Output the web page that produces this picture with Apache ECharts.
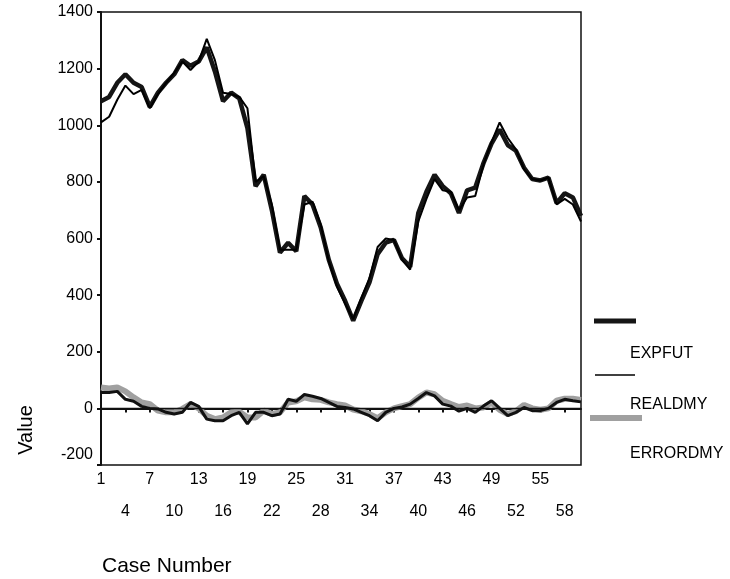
<!DOCTYPE html>
<html>
<head>
<meta charset="utf-8">
<script src="https://cdn.jsdelivr.net/npm/echarts@6/dist/echarts.min.js"></script>
<style>html,body{margin:0;padding:0;background:#fff}#c{width:730px;height:579px}</style>
</head>
<body>
<div id="c"></div>
<script>
var cases = [];
for (var i = 1; i <= 60; i++) cases.push(String(i));

var expfut = [1085,1100,1150,1180,1150,1135,1065,1115,1150,1180,1230,1210,1225,1275,1190,1085,1115,1095,990,785,
  825,700,550,585,555,750,720,640,525,440,380,310,380,445,545,585,595,530,500,690,
  765,825,785,760,690,770,780,865,935,985,930,910,850,810,805,815,725,760,745,680];
var realdmy = [1010,1030,1090,1140,1110,1125,1060,1110,1150,1185,1225,1195,1225,1305,1230,1115,1110,1100,1060,800,
  820,720,560,560,560,720,730,650,520,430,370,315,390,460,570,600,595,525,490,660,
  740,810,770,765,700,745,750,860,940,1010,955,915,845,810,805,815,720,740,720,660];
var errordmy = [74,70,74,60,39,21,15,-8,-14,-14,-2,15,0,-26,-38,-32,-14,-12,-32,-32,
  -8,-20,-14,21,25,39,32,30,21,15,10,-4,-10,-20,-35,-14,0,8,15,38,
  56,50,27,15,5,10,0,3,20,-5,-20,-10,12,0,-5,0,27,34,34,30];
var lowerLine = [56,56,60,32,25,7,0,-2,-14,-20,-14,21,7,-38,-44,-44,-26,-14,-55,-14,
  -14,-26,-20,32,25,49,43,35,21,7,3,-2,-14,-26,-44,-14,0,5,15,35,
  56,44,15,8,-10,0,-14,8,27,0,-26,-14,3,-8,-8,0,21,32,27,23];
var yTicks = {min: -200, max: 1400, step: 200};
var legendNames = ['EXPFUT', 'REALDMY', 'ERRORDMY'];

var FONT = 'Liberation Sans, Arial, sans-serif';
var chart = echarts.init(document.getElementById('c'), null, {renderer: 'canvas'});
chart.setOption({
  animation: false,
  backgroundColor: '#fff',
  grid: {left: 101, top: 12, right: 149, bottom: 114, show: true, borderColor: '#111', borderWidth: 1.5, containLabel: false},
  xAxis: {
    type: 'category', data: cases, boundaryGap: false,
    axisLine: {lineStyle: {color: '#111', width: 2}},
    axisTick: {show: true, length: 4, interval: function (idx) { return idx % 3 === 0; }, lineStyle: {color: '#111', width: 2}},
    axisLabel: {
      interval: function (idx) { return idx % 3 === 0; },
      margin: 7, color: '#000', fontFamily: FONT, fontSize: 16,
      formatter: function (v, idx) { return (idx % 6 === 0) ? '{a|' + v + '}' : '{b|' + v + '}'; },
      rich: {a: {fontFamily: FONT, fontSize: 16, color: '#000'}, b: {fontFamily: FONT, fontSize: 16, color: '#000', padding: [32, 0, 0, 0]}}
    },
    splitLine: {show: false}
  },
  yAxis: {
    type: 'value', min: yTicks.min, max: yTicks.max, interval: yTicks.step,
    axisLine: {show: true, lineStyle: {color: '#111', width: 2}},
    axisTick: {show: true, length: 4, lineStyle: {color: '#111', width: 2}},
    axisLabel: {
      margin: 8, color: '#000', fontFamily: FONT, fontSize: 16,
      formatter: function (v) { return v === -200 ? '{u|' + v + '}' : '{n|' + v + '}'; },
      rich: {n: {fontFamily: FONT, fontSize: 16, color: '#000'}, u: {fontFamily: FONT, fontSize: 16, color: '#000', padding: [0, 0, 20, 0]}}
    },
    splitLine: {show: false}
  },
  series: [
    {name: 'ERRORDMY', type: 'line', data: errordmy, symbol: 'none', lineStyle: {color: '#a0a0a0', width: 6}, z: 2,
      markLine: {silent: true, symbol: 'none', label: {show: false}, lineStyle: {color: '#111', width: 1.3, type: 'solid'}, data: [{yAxis: 0}]}},
    {name: 'lower', type: 'line', data: lowerLine, symbol: 'none', lineStyle: {color: '#111', width: 3}, z: 3},
    {name: 'EXPFUT', type: 'line', data: expfut, symbol: 'none', lineStyle: {color: '#151515', width: 4.5}, z: 4},
    {name: 'REALDMY', type: 'line', data: realdmy, symbol: 'none', lineStyle: {color: '#000', width: 2}, z: 5}
  ],
  graphic: [
    {type: 'line', shape: {x1: 594, y1: 321, x2: 636, y2: 321}, style: {stroke: '#151515', lineWidth: 5}},
    {type: 'text', left: 630, top: 346, style: {text: legendNames[0], font: '16px ' + FONT, fill: '#000'}},
    {type: 'line', shape: {x1: 595, y1: 375, x2: 635, y2: 375}, style: {stroke: '#000', lineWidth: 1.5}},
    {type: 'text', left: 630, top: 397, style: {text: legendNames[1], font: '16px ' + FONT, fill: '#000'}},
    {type: 'line', shape: {x1: 590, y1: 418, x2: 642, y2: 418}, style: {stroke: '#a0a0a0', lineWidth: 6}},
    {type: 'text', left: 630, top: 446, style: {text: legendNames[2], font: '16px ' + FONT, fill: '#000'}},
    {type: 'text', left: 102, top: 556, style: {text: 'Case Number', font: '21px ' + FONT, fill: '#000'}},
    {type: 'text', x: 26, y: 430, rotation: Math.PI / 2, style: {text: 'Value', font: '20px ' + FONT, fill: '#000', align: 'center', verticalAlign: 'middle'}}
  ]
});
</script>
</body>
</html>
